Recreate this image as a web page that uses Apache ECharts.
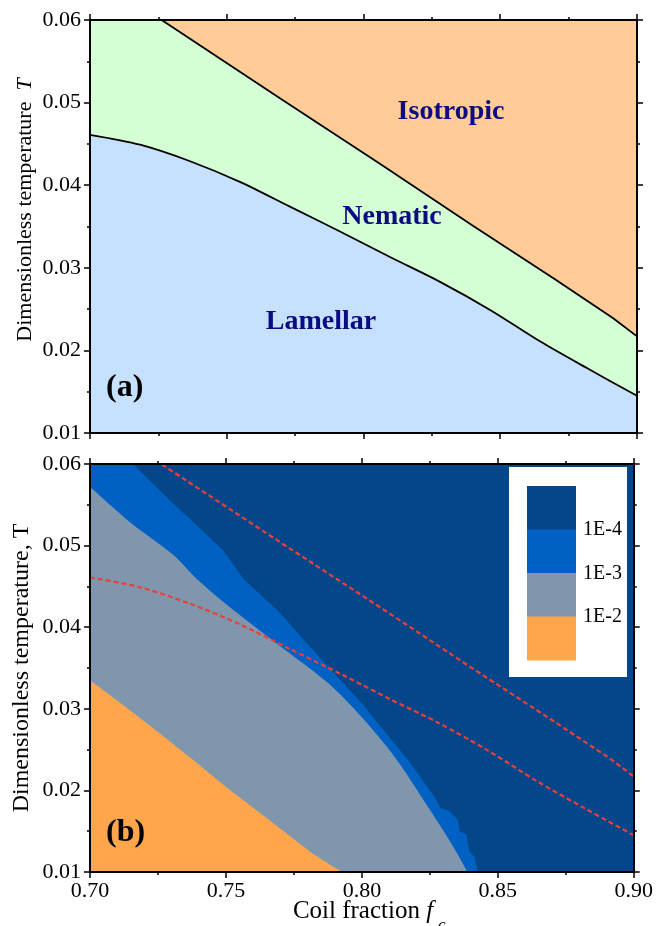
<!DOCTYPE html>
<html>
<head>
<meta charset="UTF-8">
<title>Phase diagram</title>
<script src="https://cdn.jsdelivr.net/npm/echarts@6/dist/echarts.min.js"></script>
<style>
  html, body { margin: 0; padding: 0; background: #fff; }
  #main { width: 656px; height: 926px; }
</style>
</head>
<body>
<div id="main"></div>
<script>
// axis ranges and ticks
var fRange = [0.70, 0.90];
var tRange = [0.01, 0.06];
var fStep = 0.05;
var tStep = 0.01;

// (a) Nematic / Isotropic boundary
var isoF = [0.700, 0.7262, 0.770, 0.806, 0.840, 0.870, 0.8913, 0.900];
var isoT = [0.0600, 0.0600, 0.0504, 0.0426, 0.0351, 0.0286, 0.0239, 0.0217];

// (a) Lamellar / Nematic boundary
var lamF = [0.700, 0.7183, 0.7366, 0.7548, 0.7731, 0.7914, 0.8097, 0.828, 0.8463, 0.8645, 0.882, 0.900];
var lamT = [0.0461, 0.0449, 0.0429, 0.0404, 0.0374, 0.0344, 0.0313, 0.0283, 0.0249, 0.0211, 0.0178, 0.0145];

// (b) contour level 1E-4 (dark blue / medium blue)
var c4F = [0.700, 0.7158, 0.7305, 0.7488, 0.7567, 0.7695, 0.7841, 0.7999, 0.8170, 0.8268, 0.8290, 0.8320, 0.8353, 0.8360, 0.8385, 0.8395, 0.8415, 0.8426];
var c4T = [0.0600, 0.0600, 0.0552, 0.0495, 0.0458, 0.0419, 0.0364, 0.0307, 0.0237, 0.0192, 0.0178, 0.0175, 0.0164, 0.0150, 0.0146, 0.0125, 0.0118, 0.0100];

// (b) contour level 1E-3 (medium blue / grey)
var c3F = [0.700, 0.7146, 0.7305, 0.7390, 0.7512, 0.7695, 0.7878, 0.7999, 0.8121, 0.8243, 0.8329, 0.8389];
var c3T = [0.0572, 0.0529, 0.0489, 0.0460, 0.0425, 0.0378, 0.0331, 0.0290, 0.0241, 0.0180, 0.0135, 0.0100];

// (b) contour level 1E-2 (grey / orange)
var c2F = [0.700, 0.7128, 0.7256, 0.7384, 0.7512, 0.7658, 0.7817, 0.7926];
var c2T = [0.0335, 0.0303, 0.0270, 0.0236, 0.0201, 0.0164, 0.0123, 0.0100];

var levelLabels = ['1E-4', '1E-3', '1E-2'];
var phaseNames = ['Isotropic', 'Nematic', 'Lamellar'];

var col = {
    iso: '#ffcb96',
    nem: '#d4fed4',
    lam: '#c6e1fd',
    l4: '#034689',
    l3: '#0061c2',
    l2: '#8096ad',
    l1: '#ffa54b',
    red: '#e8403a',
    navy: '#0c0c82'
};
var serif = 'Liberation Serif';

function pairs(xs, ys) {
    var out = [];
    for (var i = 0; i < xs.length; i++) {
        out.push([xs[i], ys[i]]);
    }
    return out;
}

function xAx(grid, pos, labels) {
    return {
        type: 'value', gridIndex: grid, position: pos,
        min: fRange[0], max: fRange[1], interval: fStep, z: 10,
        axisLine: { onZero: false, lineStyle: { color: '#000', width: 2 } },
        axisTick: { length: 6, lineStyle: { color: '#000', width: 1.5 } },
        minorTick: { show: true, splitNumber: 2, length: 3, lineStyle: { color: '#000', width: 1.5 } },
        splitLine: { show: false },
        axisLabel: {
            show: labels, margin: 8, color: '#000', fontFamily: serif, fontSize: 22,
            formatter: function (v) { return v.toFixed(2); }
        }
    };
}

function yAx(grid, pos, labels) {
    return {
        type: 'value', gridIndex: grid, position: pos,
        min: tRange[0], max: tRange[1], interval: tStep, z: 10,
        axisLine: { onZero: false, lineStyle: { color: '#000', width: 2 } },
        axisTick: { length: 6, lineStyle: { color: '#000', width: 1.5 } },
        minorTick: { show: true, splitNumber: 2, length: 3, lineStyle: { color: '#000', width: 1.5 } },
        splitLine: { show: false },
        axisLabel: {
            show: labels, margin: 9, color: '#000', fontFamily: serif, fontSize: 22,
            formatter: function (v) { return v.toFixed(2); }
        }
    };
}

function area(xi, yi, data, fill, line, smooth) {
    return {
        type: 'line', xAxisIndex: xi, yAxisIndex: yi,
        data: data, showSymbol: false, silent: true, smooth: smooth || false,
        lineStyle: line || { width: 0 },
        areaStyle: { color: fill, opacity: 1, origin: 'start' }
    };
}

function dashed(data, smooth) {
    return {
        type: 'line', xAxisIndex: 2, yAxisIndex: 2,
        data: data, showSymbol: false, silent: true, smooth: smooth || false,
        lineStyle: { color: col.red, width: 2.2, type: [5, 3] }
    };
}

var box = [[fRange[0], tRange[1]], [fRange[1], tRange[1]]];
var blackLine = { color: '#000', width: 1.8 };

var chart = echarts.init(document.getElementById('main'), null, { renderer: 'canvas' });

// legend swatches for panel (b)
var swatchCols = [col.l4, col.l3, col.l2, col.l1];
var legendEls = [{
    type: 'rect', shape: { x: 509, y: 467, width: 118, height: 210 },
    style: { fill: '#fff' }, z: 20
}];
for (var i = 0; i < swatchCols.length; i++) {
    legendEls.push({
        type: 'rect', shape: { x: 527, y: 486 + i * 43.5, width: 49, height: 44 },
        style: { fill: swatchCols[i] }, z: 21
    });
}
for (var j = 0; j < levelLabels.length; j++) {
    legendEls.push({
        type: 'text', x: 583, y: 530 + j * 43.5, z: 21,
        style: { text: levelLabels[j], fill: '#000', font: '20px "' + serif + '"', verticalAlign: 'middle' }
    });
}

var phaseFont = 'bold 28px "' + serif + '"';

chart.setOption({
    animation: false,
    grid: [
        { left: 90, top: 20, width: 547, height: 413 },
        { left: 90, top: 464, width: 547, height: 408 }
    ],
    xAxis: [
        xAx(0, 'bottom', false), xAx(0, 'top', false),
        xAx(1, 'bottom', true), xAx(1, 'top', false)
    ],
    yAxis: [
        yAx(0, 'left', true), yAx(0, 'right', false),
        yAx(1, 'left', true), yAx(1, 'right', false)
    ],
    series: [
        // panel (a)
        area(0, 0, box, col.iso),
        area(0, 0, pairs(isoF, isoT), col.nem, blackLine),
        area(0, 0, pairs(lamF, lamT), col.lam, blackLine, 0.3),
        // panel (b)
        area(2, 2, box, col.l4),
        area(2, 2, pairs(c4F, c4T), col.l3),
        area(2, 2, pairs(c3F, c3T), col.l2, null, 0.3),
        area(2, 2, pairs(c2F, c2T), col.l1),
        dashed(pairs(isoF, isoT)),
        dashed(pairs(lamF, lamT), 0.3)
    ],
    graphic: [
        { type: 'text', x: 451, y: 112, z: 15, style: { text: phaseNames[0], fill: col.navy, font: phaseFont, align: 'center', verticalAlign: 'middle' } },
        { type: 'text', x: 392, y: 217, z: 15, style: { text: phaseNames[1], fill: col.navy, font: phaseFont, align: 'center', verticalAlign: 'middle' } },
        { type: 'text', x: 321, y: 322, z: 15, style: { text: phaseNames[2], fill: col.navy, font: phaseFont, align: 'center', verticalAlign: 'middle' } },
        { type: 'text', x: 106, y: 388, z: 15, style: { text: '(a)', fill: '#000', font: 'bold 32px "' + serif + '"', verticalAlign: 'middle' } },
        { type: 'text', x: 106, y: 833, z: 15, style: { text: '(b)', fill: '#000', font: 'bold 32px "' + serif + '"', verticalAlign: 'middle' } },
        {
            type: 'text', x: 25, y: 210, rotation: Math.PI / 2, z: 15,
            style: {
                text: '{n|Dimensionless temperature  }{i|T}', align: 'center', verticalAlign: 'middle',
                rich: {
                    n: { fontFamily: serif, fontSize: 22, fill: '#000' },
                    i: { fontFamily: serif, fontSize: 22, fontStyle: 'italic', fill: '#000' }
                }
            }
        },
        {
            type: 'text', x: 22, y: 668, rotation: Math.PI / 2, z: 15,
            style: { text: 'Dimensionless temperature, T', fill: '#000', font: '24px "' + serif + '"', align: 'center', verticalAlign: 'middle' }
        },
        {
            type: 'text', x: 363, y: 911, z: 15,
            style: {
                text: '{n|Coil fraction }{i|f}', align: 'center', verticalAlign: 'middle',
                rich: {
                    n: { fontFamily: serif, fontSize: 25, fill: '#000' },
                    i: { fontFamily: serif, fontSize: 25, fontStyle: 'italic', fill: '#000' }
                }
            }
        },
        { type: 'text', x: 438, y: 926, z: 15, style: { text: 'c', fill: '#000', font: 'italic 17px "' + serif + '"', verticalAlign: 'middle' } }
    ].concat(legendEls)
});
</script>
</body>
</html>
